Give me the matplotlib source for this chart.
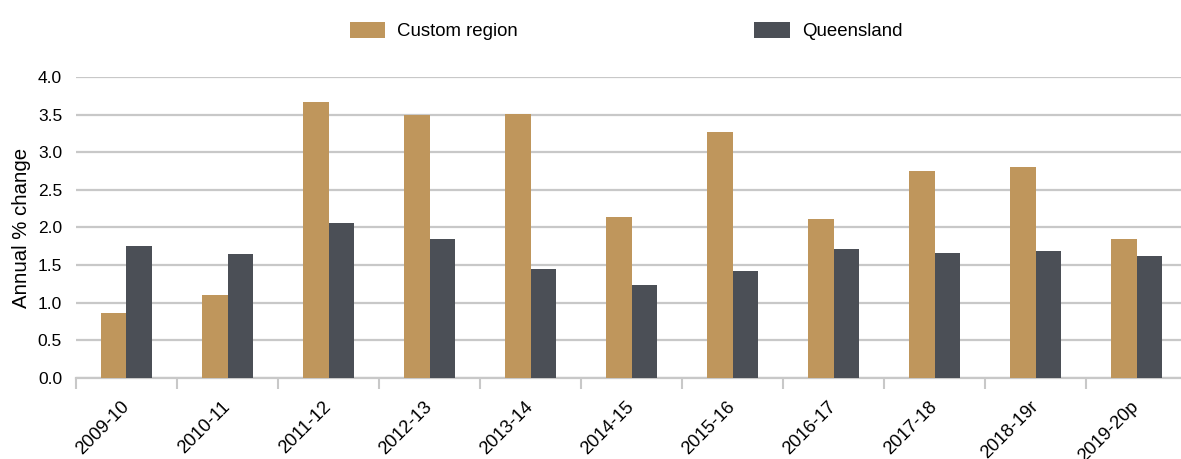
import numpy as np
import matplotlib.pyplot as plt
from matplotlib.transforms import ScaledTranslation

plt.rcParams['font.family'] = ['Liberation Sans', 'DejaVu Sans']

years = ['2009-10', '2010-11', '2011-12', '2012-13', '2013-14', '2014-15',
         '2015-16', '2016-17', '2017-18', '2018-19r', '2019-20p']
custom_region = [0.86, 1.10, 3.67, 3.49, 3.51, 2.14, 3.27, 2.11, 2.75, 2.80, 1.85]
queensland = [1.75, 1.65, 2.06, 1.85, 1.45, 1.24, 1.42, 1.71, 1.66, 1.69, 1.62]

c_custom = '#BF965C'
c_qld = '#4B4F56'
grid_c = '#C8C8C8'

fig = plt.figure(figsize=(11.81, 4.59), dpi=100)
ax = fig.add_axes([76 / 1181, 81 / 459, 1 - 76 / 1181, 301 / 459])

x = np.arange(len(years))
w = 0.25
ax.bar(x - w / 2, custom_region, w, color=c_custom, label='Custom region', zorder=3)
ax.bar(x + w / 2, queensland, w, color=c_qld, label='Queensland', zorder=3)

ax.set_xlim(-0.5, len(years) - 0.5 - 6 / 101)
ax.set_ylim(0, 4.0)
ax.set_yticks(np.arange(0, 4.01, 0.5))
ax.set_yticklabels([f'{v:.1f}' for v in np.arange(0, 4.01, 0.5)], fontsize=12.5)
ax.yaxis.grid(True, color=grid_c, lw=1.6, zorder=0)
ax.tick_params(axis='y', length=0, pad=10)

ax.set_xticks(x)
ax.set_xticklabels(years, rotation=45, ha='right', va='center',
                   rotation_mode='anchor', fontsize=13.2)
# nudge rotated labels a few pixels right
shift = ScaledTranslation(4 / 100, 0, fig.dpi_scale_trans)
for lab in ax.get_xticklabels():
    lab.set_transform(lab.get_transform() + shift)
ax.set_xticks(np.arange(-0.5, len(years) - 0.5, 1), minor=True)
ax.tick_params(axis='x', which='major', length=0, pad=19)
ax.tick_params(axis='x', which='minor', length=8, width=1.5, color=grid_c)

for s in ['top', 'right', 'left']:
    ax.spines[s].set_visible(False)
ax.spines['bottom'].set_color(grid_c)
ax.spines['bottom'].set_linewidth(1.6)

ax.set_ylabel('Annual % change', fontsize=14.7, labelpad=5)

fig.legend(loc='center', bbox_to_anchor=(626 / 1181, 1 - 31 / 459), ncol=2,
           frameon=False, fontsize=13.4, handlelength=1.9, handleheight=1.0,
           handletextpad=0.65, columnspacing=12.7)

fig.savefig('out.png', dpi=100)
